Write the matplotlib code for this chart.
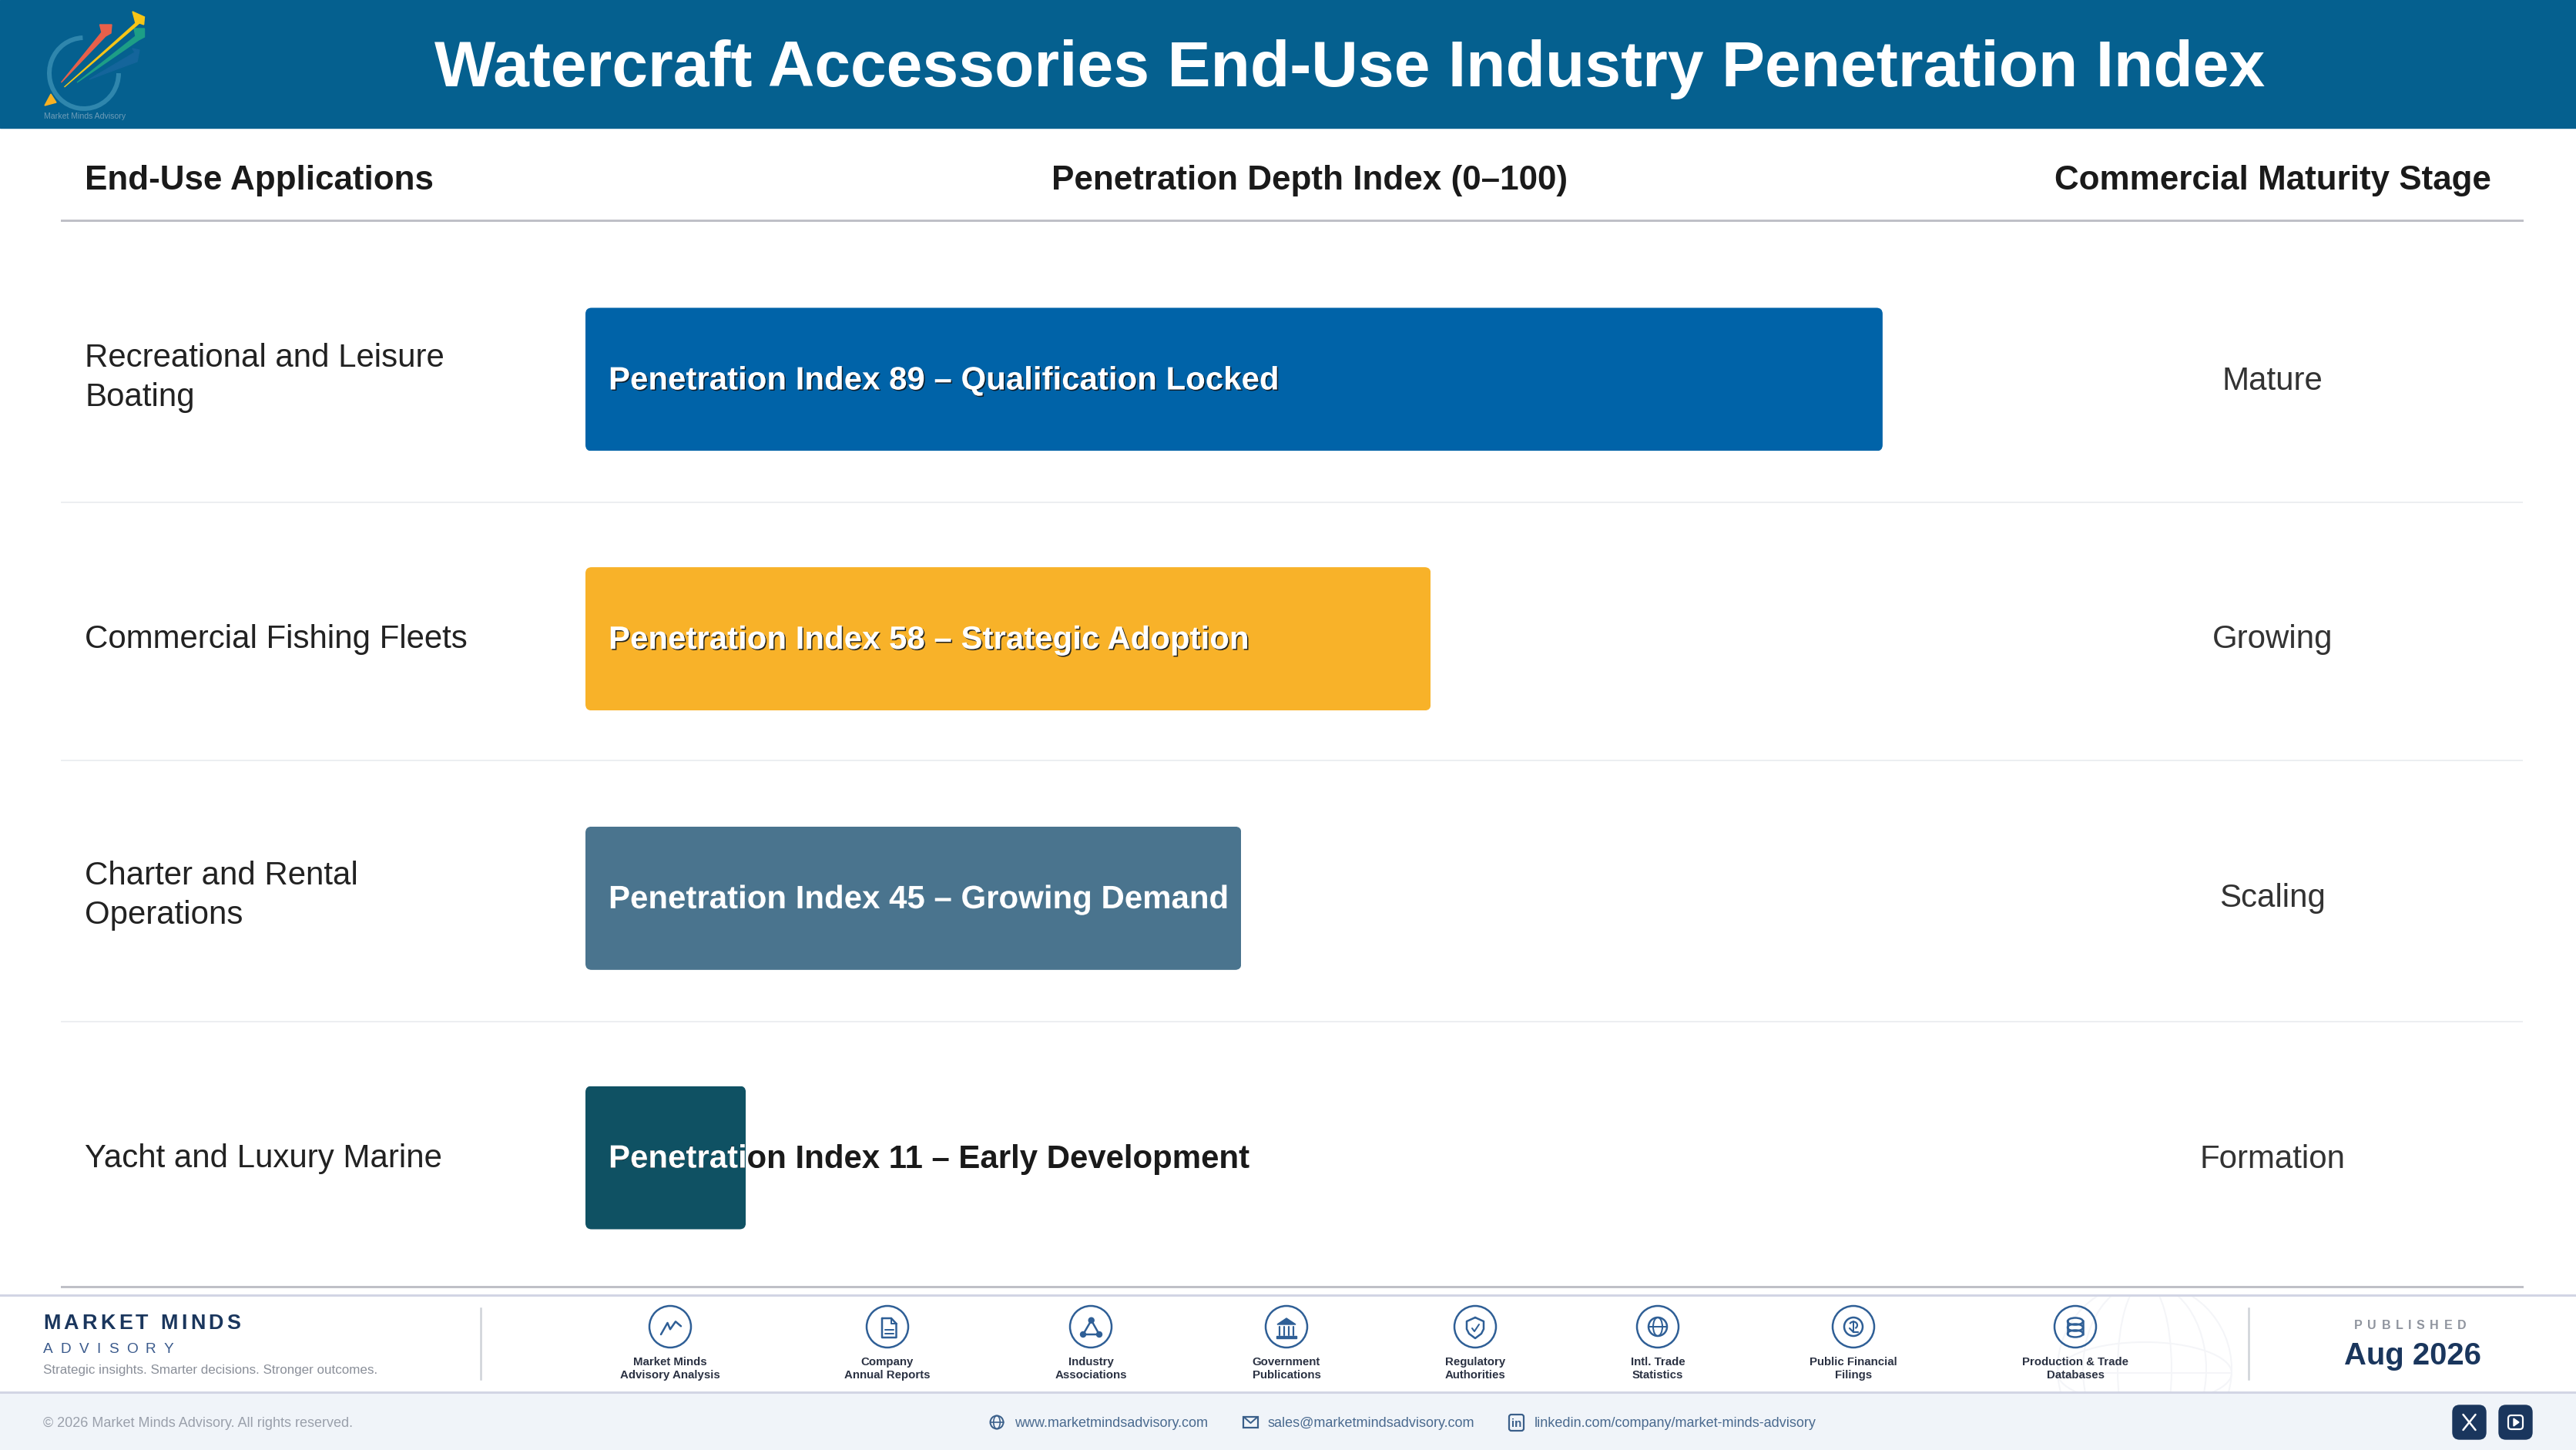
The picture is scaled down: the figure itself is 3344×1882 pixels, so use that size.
import numpy as np
import matplotlib
matplotlib.use('Agg')
from matplotlib import pyplot as plt
from matplotlib import patheffects as pe
from matplotlib.font_manager import FontProperties
from matplotlib.patches import Arc, Circle, Ellipse, FancyBboxPatch, Polygon, Rectangle
from matplotlib.textpath import text_to_path


applications = [
	"Recreational and Leisure\nBoating",
	"Commercial Fishing Fleets",
	"Charter and Rental\nOperations",
	"Yacht and Luxury Marine",
]
index_values = [89, 58, 45, 11]
index_labels = ["Qualification Locked", "Strategic Adoption", "Growing Demand", "Early Development"]
maturity_stages = ["Mature", "Growing", "Scaling", "Formation"]
bar_colors = ["#0063a8", "#f8b229", "#4a748e", "#0f5163"]
label_shadow = [True, True, False, False]

column_titles = ["End-Use Applications", "Penetration Depth Index (0–100)", "Commercial Maturity Stage"]
source_labels = [
	"Market Minds\nAdvisory Analysis",
	"Company\nAnnual Reports",
	"Industry\nAssociations",
	"Government\nPublications",
	"Regulatory\nAuthorities",
	"Intl. Trade\nStatistics",
	"Public Financial\nFilings",
	"Production & Trade\nDatabases",
]
source_x = [870, 1152, 1416, 1670, 1915, 2152, 2406, 2694]

NAVY = "#1a365d"
ICON = "#2f5f96"
W, H = 3344, 1882
DPI = 100

plt.rcParams['font.family'] = ['Liberation Sans', 'DejaVu Sans']


def pt(px):
	return px * 72 / DPI


# ------------- Helpers ---------------


def spaced_text(ax, x, y, s, size, spacing, **kw):
	# matplotlib has no letter spacing, so place the characters one at a time
	prop = FontProperties(family='Liberation Sans', size=pt(size), weight=kw.get('weight', 'normal'))
	for i, c in enumerate(s):
		if c == ' ':
			continue
		w_all = text_to_path.get_text_width_height_descent(s[:i + 1], prop, False)[0]
		w_c = text_to_path.get_text_width_height_descent(c, prop, False)[0]
		ax.text(x + (w_all - w_c) * DPI / 72 + i * spacing, y, c, fontsize=pt(size), va='baseline', ha='left', **kw)


def stroke(ax, xs, ys, cx, cy, lw=2.5, color=ICON):
	ax.plot(np.array(xs) + cx, np.array(ys) + cy, color=color, lw=pt(lw), solid_capstyle='round', solid_joinstyle='round')


def outline(ax, patch, lw=2.5, color=ICON):
	patch.set(facecolor='none', edgecolor=color, linewidth=pt(lw))
	ax.add_patch(patch)


# ------------- Icons ---------------


def icon_chart(ax, cx, cy):
	stroke(ax, [-12, -3.5, 0, 7, 14], [10, -5, 3.3, -6.7, -0.7], cx, cy)


def icon_doc(ax, cx, cy):
	stroke(ax, [-7, 5, 11.5, 11.5, -7, -7], [-11, -11, -4, 14, 14, -11], cx, cy)
	stroke(ax, [5, 5, 11.5], [-11, -4, -4], cx, cy, lw=2)
	stroke(ax, [-3, 7.5], [4, 4], cx, cy, lw=2)
	stroke(ax, [-3, 7.5], [9, 9], cx, cy, lw=2)


def icon_network(ax, cx, cy):
	px = [0.7, -10, 11, 0.7]
	py = [-8.3, 10, 10, -8.3]
	stroke(ax, px, py, cx, cy)
	for x, y in zip(px[:3], py[:3]):
		ax.add_patch(Circle((cx + x, cy + y), 3.5, color=ICON))


def icon_bank(ax, cx, cy):
	ax.add_patch(Polygon([(cx, cy - 11), (cx + 12, cy - 3), (cx - 12, cy - 3)], color=ICON))
	for dx in [-9, -3, 3, 9]:
		stroke(ax, [dx, dx], [0, 11], cx, cy, lw=2.2)
	ax.add_patch(Rectangle((cx - 13, cy + 12), 26, 3, color=ICON))


def icon_shield(ax, cx, cy):
	xs = [0, 11, 11, 8, 0, -8, -11, -11, 0]
	ys = [-12, -7, 3, 9, 15, 9, 3, -7, -12]
	stroke(ax, xs, ys, cx, cy)
	stroke(ax, [-4, -1, 5], [2, 6, -3], cx, cy, lw=2)


def icon_globe(ax, cx, cy, r=12, lw=2.5, color=ICON):
	outline(ax, Circle((cx, cy), r), lw, color)
	outline(ax, Ellipse((cx, cy), r, 2 * r), lw * 0.8, color)
	stroke(ax, [-r, r], [0, 0], cx, cy, lw * 0.8, color)


def icon_coin(ax, cx, cy):
	outline(ax, Circle((cx, cy), 12))
	outline(ax, Arc((cx, cy - 2), 10, 9, theta1=200, theta2=60), 2.2)
	stroke(ax, [0, 0], [-7, 7], cx, cy, lw=2)
	stroke(ax, [-5, 0, 6], [2, 7, 7], cx, cy, lw=2.2)


def icon_database(ax, cx, cy):
	stroke(ax, [-10, -10], [-8, 10], cx, cy)
	stroke(ax, [10, 10], [-8, 10], cx, cy)
	for dy, hh in [(-7, 9), (1, 9), (9, 9)]:
		outline(ax, Ellipse((cx, cy + dy), 20, hh))


source_icons = [icon_chart, icon_doc, icon_network, icon_bank, icon_shield, icon_globe, icon_coin, icon_database]


# ------------- Page parts ---------------


def draw_logo(ax):
	# ring goes through left and bottom, open at the upper right
	ax.add_patch(Arc((109, 95), 90, 92, theta1=0, theta2=268, color='#2f86ad', lw=pt(6)))
	ax.add_patch(Polygon([(66, 122), (58, 137), (73, 133)], color='#f9b122'))
	ax.add_patch(Polygon([(116, 103), (175, 68), (172, 63), (181, 65), (178, 80)], color='#14659b'))
	ax.add_patch(Polygon([(100, 107), (176, 47), (174, 37), (187.5, 37), (187.5, 48), (180, 52)], color='#1d9e86'))
	ax.add_patch(Polygon([(79.5, 107), (132, 42), (129.5, 32), (145, 32), (144, 43), (137, 47)], color='#e8604a'))
	ax.add_patch(Polygon([(83.5, 113), (176, 30), (172, 15), (187.5, 22), (186.6, 32), (181, 30)], color='#f7c516'))
	ax.text(110, 151, "Market Minds Advisory", fontsize=pt(10.5), color='#6f9db8', ha='center', va='center')


def draw_table_frame(ax):
	ax.add_patch(Rectangle((0, 0), W, 166, color='#05608f'))
	ax.text(1752, 112, "Watercraft Accessories End-Use Industry Penetration Index", color='white',
		fontsize=pt(84), fontweight='bold', ha='center', va='baseline')

	col_x = [110, 1700, 2950]
	col_ha = ['left', 'center', 'center']
	for title, x, ha in zip(column_titles, col_x, col_ha):
		ax.text(x, 246, title, fontsize=pt(44), fontweight='bold', color='#1a1a1a', ha=ha, va='baseline')

	ax.plot([80, 3274], [285.5, 285.5], color='#bfc0c7', lw=pt(3))
	ax.plot([80, 3274], [1670, 1670], color='#bfc0c7', lw=pt(3))
	for y in [652, 987, 1326]:
		ax.plot([80, 3274], [y, y], color='#eceef1', lw=pt(2))


def draw_bars():
	left = 760 / W
	width = 1892 / W
	pitch = 336.67
	top = 492.5 - pitch / 2
	bottom = 1502.5 + pitch / 2
	ax = fig.add_axes([left, 1 - bottom / H, width, (bottom - top) / H])
	ax.set_xlim(0, 100)
	ax.set_ylim(3.5, -0.5)
	ax.axis('off')

	rows = np.arange(len(index_values))
	bar_h = 186 / pitch
	bars = ax.barh(rows, index_values, height=bar_h, color=bar_colors)
	x_px = 1892 / 100
	radius = 8 / x_px
	renderer = fig.canvas.get_renderer()

	for row, bar in enumerate(bars):
		round_box = FancyBboxPatch((0, row - bar_h / 2), index_values[row], bar_h,
			boxstyle=f"round,pad=0,rounding_size={radius}", mutation_aspect=(8 / pitch) / radius,
			transform=ax.transData)
		bar.set_clip_path(round_box)

		text = f"Penetration Index {index_values[row]} – {index_labels[row]}"
		y = row + 13 / pitch
		top_label = ax.text(30 / x_px, y, text, color='white', fontsize=pt(42), fontweight='bold', va='baseline', zorder=4)
		full_width = top_label.get_window_extent(renderer).x1
		top_label.set_clip_on(True)
		top_label.set_clip_path(round_box)
		# plain agg text ignores clip paths, a path effect draws it as a path so the clip holds
		if label_shadow[row]:
			top_label.set_path_effects([pe.withSimplePatchShadow(offset=(1.1, -1.1), shadow_rgbFace='#101820', alpha=0.9)])
		else:
			top_label.set_path_effects([pe.Normal()])
		# labels that run past the bar continue in dark text
		if full_width > ax.transData.transform((index_values[row], 0))[0]:
			ax.text(30 / x_px, y, text, color='#1a1a1a', fontsize=pt(42), fontweight='bold', va='baseline', zorder=1)


def draw_row_text(ax):
	centers = [492.5, 828.5, 1164.5, 1502.5]
	for center, app, stage in zip(centers, applications, maturity_stages):
		lines = app.split('\n')
		first = center + 13 - 30 * (len(lines) - 1)
		for i, line in enumerate(lines):
			ax.text(110, first + i * 52, line, fontsize=pt(42), color='#222222', va='baseline')
		ax.text(2950, center + 13, stage, fontsize=pt(42), color='#333333', ha='center', va='baseline')


def draw_footer(ax):
	# globe watermark sits behind the last source
	clip = Rectangle((2600, 1682), 400, 124, transform=ax.transData)
	for w, h in [(226, 226), (160, 226), (70, 226), (226, 80)]:
		e = Ellipse((2784, 1777 if h == 226 else 1782), w, h, facecolor='none', edgecolor='#f4f5f8', lw=pt(2))
		ax.add_patch(e)
		e.set_clip_path(clip)
	line, = ax.plot([2671, 2897], [1782, 1782], color='#f4f5f8', lw=pt(2))
	line.set_clip_path(clip)

	ax.plot([0, W], [1681, 1681], color='#d2d5e4', lw=pt(3))
	ax.add_patch(Rectangle((0, 1807), W, 75, color='#f0f4f9'))
	ax.plot([0, W], [1807, 1807], color='#d2d5e4', lw=pt(3))
	ax.plot([624, 624], [1698, 1790], color='#cfd2d8', lw=pt(2.5))
	ax.plot([2919, 2919], [1698, 1790], color='#cfd2d8', lw=pt(2.5))

	spaced_text(ax, 56, 1725, "MARKET MINDS", 27, 4.2, weight='bold', color=NAVY)
	spaced_text(ax, 56, 1756, "ADVISORY", 19, 10.2, color='#3a5a8c')
	ax.text(56, 1783, "Strategic insights. Smarter decisions. Stronger outcomes.", fontsize=pt(17), color='#8a8f99', va='baseline')

	for x, label, icon in zip(source_x, source_labels, source_icons):
		outline(ax, Circle((x, 1722), 27))
		icon(ax, x, 1722)
		lines = label.split('\n')
		ax.text(x, 1772, lines[0], fontsize=pt(15), fontweight='bold', color='#2a3142', ha='center', va='baseline')
		ax.text(x, 1789, lines[1], fontsize=pt(15), fontweight='bold', color='#2a3142', ha='center', va='baseline')

	spaced_text(ax, 3056, 1725, "PUBLISHED", 16, 6.6, weight='bold', color='#8f949e')
	ax.text(3132, 1771, "Aug 2026", fontsize=pt(40), fontweight='bold', color=NAVY, ha='center', va='baseline')

	ax.text(56, 1852, "© 2026 Market Minds Advisory. All rights reserved.", fontsize=pt(18), color='#9aa0ab', va='baseline')
	link = '#4a6a8f'
	icon_globe(ax, 1294, 1846, r=8.5, lw=2, color='#3a5f8a')
	ax.text(1317, 1852, "www.marketmindsadvisory.com", fontsize=pt(18), color=link, va='baseline')
	outline(ax, Rectangle((1614, 1839), 19, 14), lw=2.2, color='#3a5f8a')
	stroke(ax, [-9, 0, 9], [-6, 2, -6], 1623.5, 1845, lw=2, color='#3a5f8a')
	ax.text(1646, 1852, "sales@marketmindsadvisory.com", fontsize=pt(18), color=link, va='baseline')
	outline(ax, FancyBboxPatch((1959, 1836), 19, 21, boxstyle="round,pad=0,rounding_size=3"), lw=2.2, color='#3a5f8a')
	ax.text(1968.5, 1852, "in", fontsize=pt(15), fontweight='bold', color='#3a5f8a', ha='center', va='baseline')
	ax.text(1992, 1852, "linkedin.com/company/market-minds-advisory", fontsize=pt(18), color=link, va='baseline')

	for x in [3184, 3244]:
		ax.add_patch(FancyBboxPatch((x, 1824), 43, 44, boxstyle="round,pad=0,rounding_size=9", color=NAVY))
	stroke(ax, [-8, 8], [-10, 10], 3205.5, 1846, lw=2.5, color='white')
	stroke(ax, [-8, 8], [10, -10], 3205.5, 1846, lw=2.5, color='white')
	outline(ax, FancyBboxPatch((3256, 1837), 19, 18, boxstyle="round,pad=0,rounding_size=4"), lw=2.2, color='white')
	ax.add_patch(Polygon([(3263, 1841), (3263, 1851), (3270, 1846)], color='white'))


# ------------- Figure ---------------


fig = plt.figure(figsize=(W / DPI, H / DPI), dpi=DPI, facecolor='white')
page = fig.add_axes([0, 0, 1, 1])
page.set_xlim(0, W)
page.set_ylim(H, 0)
page.axis('off')

draw_table_frame(page)
draw_logo(page)
draw_row_text(page)
draw_bars()
draw_footer(page)

fig.savefig('out.png', dpi=DPI)
